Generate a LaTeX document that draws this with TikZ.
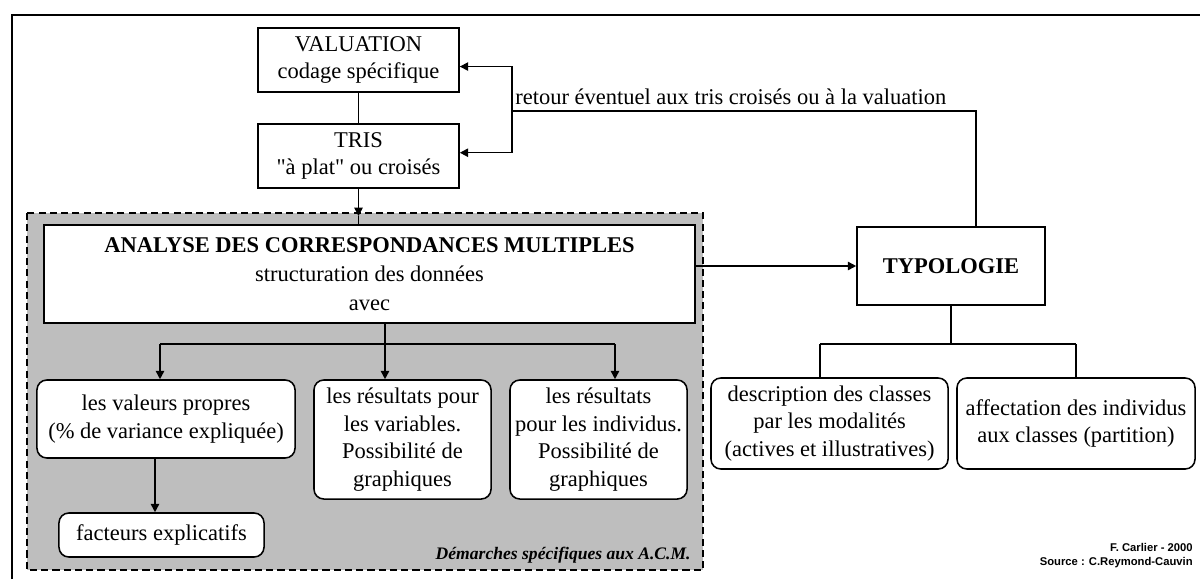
\documentclass[tikz,border=0pt]{standalone}
\usepackage{fontspec}
\setmainfont{Liberation Serif}
\setsansfont{Liberation Sans}
\usetikzlibrary{arrows.meta,calc}
\definecolor{zonegray}{RGB}{190,190,190}
\tikzset{
  box/.style={draw, line width=1.1pt, fill=white, align=center, inner sep=0pt,
              font=\fontsize{16}{19.6}\selectfont},
  rbox/.style={box, rounded corners=7pt},
  conn/.style={line width=1.1pt},
  arr/.style={conn, -{Triangle[length=6pt,width=6pt]}},
  zone/.style={draw, line width=1.1pt, dash pattern=on 5pt off 3pt, fill=zonegray},
}
\begin{document}
\begin{tikzpicture}[x=0.025cm,y=-0.025cm]
\useasboundingbox (0,0) rectangle (1200,579);
\fill[white] (0,0) rectangle (1200,579);
% outer frame
\draw[line width=1.4pt] (12,579) -- (12,15) -- (1200,15);
% dashed grey zone
\draw[zone] (27,213) rectangle (703,570);

% boxes
\node[box, minimum width=5.025cm, minimum height=1.6cm] (val) at (358.5,60) {VALUATION\\codage spécifique};
\node[box, minimum width=5.025cm, minimum height=1.6cm] (tris) at (358.5,156) {TRIS\\\textquotedbl à plat\textquotedbl{} ou croisés};
\node[box, minimum width=16.275cm, minimum height=2.45cm] (acm) at (369.5,274)
  {\textbf{ANALYSE DES CORRESPONDANCES MULTIPLES}\\[1pt]structuration des données\\[1pt]avec};
\node[box, minimum width=4.7cm, minimum height=1.95cm, font=\bfseries\fontsize{16}{19.6}\selectfont] (typo) at (951,266) {TYPOLOGIE};

\node[rbox, minimum width=6.45cm, minimum height=1.95cm] (vp) at (166,419) {les valeurs propres\\(\% de variance expliquée)};
\node[rbox, minimum width=5.125cm, minimum height=1.1cm] (fact) at (161.5,535) {facteurs explicatifs};
\node[rbox, minimum width=4.425cm, minimum height=2.975cm] (resvar) at (402.5,439.5) {les résultats pour\\les variables.\\Possibilité de\\graphiques};
\node[rbox, minimum width=4.425cm, minimum height=2.975cm] (resind) at (598.5,439.5) {les résultats\\pour les individus.\\Possibilité de\\graphiques};
\node[rbox, minimum width=5.925cm, minimum height=2.275cm] (desc) at (829.5,423.5) {description des classes\\par les modalités\\(actives et illustratives)};
\node[rbox, minimum width=5.95cm, minimum height=2.275cm] (aff) at (1076,423.5) {affectation des individus\\aux classes (partition)};

% TRIS -> ACM
\coordinate (dt) at (358.5,216);
\draw[conn] (val) -- (tris);
\draw[arr] (tris.south) -- (dt);
\draw[conn] (dt) -- (dt |- acm.north);

% feedback loop
\coordinate (fb) at (512,111);
\coordinate (fc) at (976,111);
\draw[conn] (fc |- typo.north) -- (fc) -- (fb);
\draw[arr] (fb) |- ($(val.south east)!0.4!(val.north east)$);
\draw[arr] (fb) |- ($(tris.south east)!0.55!(tris.north east)$);
\node[anchor=base west, inner sep=0pt, font=\fontsize{16}{19.6}\selectfont] (ret) at (515,104)
  {retour éventuel aux tris croisés ou à la valuation};

% ACM -> TYPOLOGIE
\draw[arr] (acm.east |- typo.west) -- (typo.west);

% TYPOLOGIE children
\coordinate (tj) at (951,344);
\coordinate (tl) at (820,344);
\coordinate (tr) at (1076,344);
\draw[conn] (typo.south) -- (tj);
\draw[conn] (tl) -- (tr);
\draw[conn] (tl) -- (tl |- desc.north);
\draw[conn] (tr) -- (aff.north);

% ACM children
\coordinate (aj) at (385,344);
\coordinate (al) at (160,344);
\coordinate (ar) at (615,344);
\draw[conn] (aj |- acm.south) -- (aj);
\draw[conn] (al) -- (ar);
\draw[arr] (al) -- (al |- vp.north);
\draw[arr] (aj) -- (aj |- resvar.north);
\draw[arr] (ar) -- (ar |- resind.north);
\draw[arr] ($(vp.south)+(-11,0)$) -- ($(fact.north)+(-6.5,0)$);

% labels
\node[anchor=east, inner sep=1.5pt, fill=zonegray, font=\bfseries\itshape\fontsize{12.5}{14}\selectfont] (dem) at (693,555)
  {Démarches spécifiques aux A.C.M.};
\node[anchor=north east, align=right, inner sep=0pt, font=\sffamily\bfseries\fontsize{8}{10}\selectfont] (cred) at (1193,543)
  {F. Carlier - 2000\\Source : C.Reymond-Cauvin};
\end{tikzpicture}
\end{document}
